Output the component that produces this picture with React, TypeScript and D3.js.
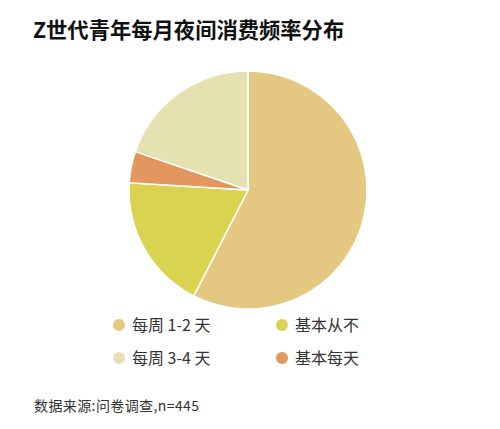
import { arc, pie, PieArcDatum } from "d3";

const categories = ["每周 1-2 天", "基本从不", "基本每天", "每周 3-4 天"];
const counts = [256, 82, 19, 88];
const colors = ["#E4C882", "#DAD352", "#E3965E", "#E6E1B0"];
const legendOrder = [0, 1, 3, 2];

type Slice = { name: string; value: number; color: string };

export default function App() {
  const width = 500;
  const height = 429;
  const cx = 248;
  const cy = 190;
  const r = 119;

  const slices: Slice[] = categories.map((name, i) => ({ name, value: counts[i], color: colors[i] }));
  const arcs = pie<Slice>().sort(null).value(d => d.value)(slices);
  const pieArc = arc<PieArcDatum<Slice>>().innerRadius(0).outerRadius(r);

  const font = "'Noto Sans CJK SC', 'Noto Sans', sans-serif";

  return (
    <svg width={width} height={height} style={{ position: "absolute", left: 0, top: 0, background: "#fff" }}>
      <text x={33} y={38} fontFamily={font} fontWeight={700} fontSize={21.3} fill="#111">
        Z世代青年每月夜间消费频率分布
      </text>
      <g transform={`translate(${cx}, ${cy})`}>
        {arcs.map((d, i) => (
          <path key={i} d={pieArc(d) as string} fill={d.data.color} stroke="#fff" strokeWidth={1.5} />
        ))}
      </g>
      {legendOrder.map((idx, k) => {
        const col = k % 2;
        const row = Math.floor(k / 2);
        const x = col === 0 ? 119 : 282;
        const y = row === 0 ? 325 : 358;
        return (
          <g key={idx}>
            <circle cx={x} cy={y} r={6} fill={colors[idx]} />
            <text x={x + 13} y={y + 6} fontFamily={font} fontSize={16} fill="#333">
              {categories[idx]}
            </text>
          </g>
        );
      })}
      <text x={34} y={411} fontFamily={font} fontSize={14} letterSpacing={0.4} fill="#333">
        数据来源:问卷调查,n=445
      </text>
    </svg>
  );
}
